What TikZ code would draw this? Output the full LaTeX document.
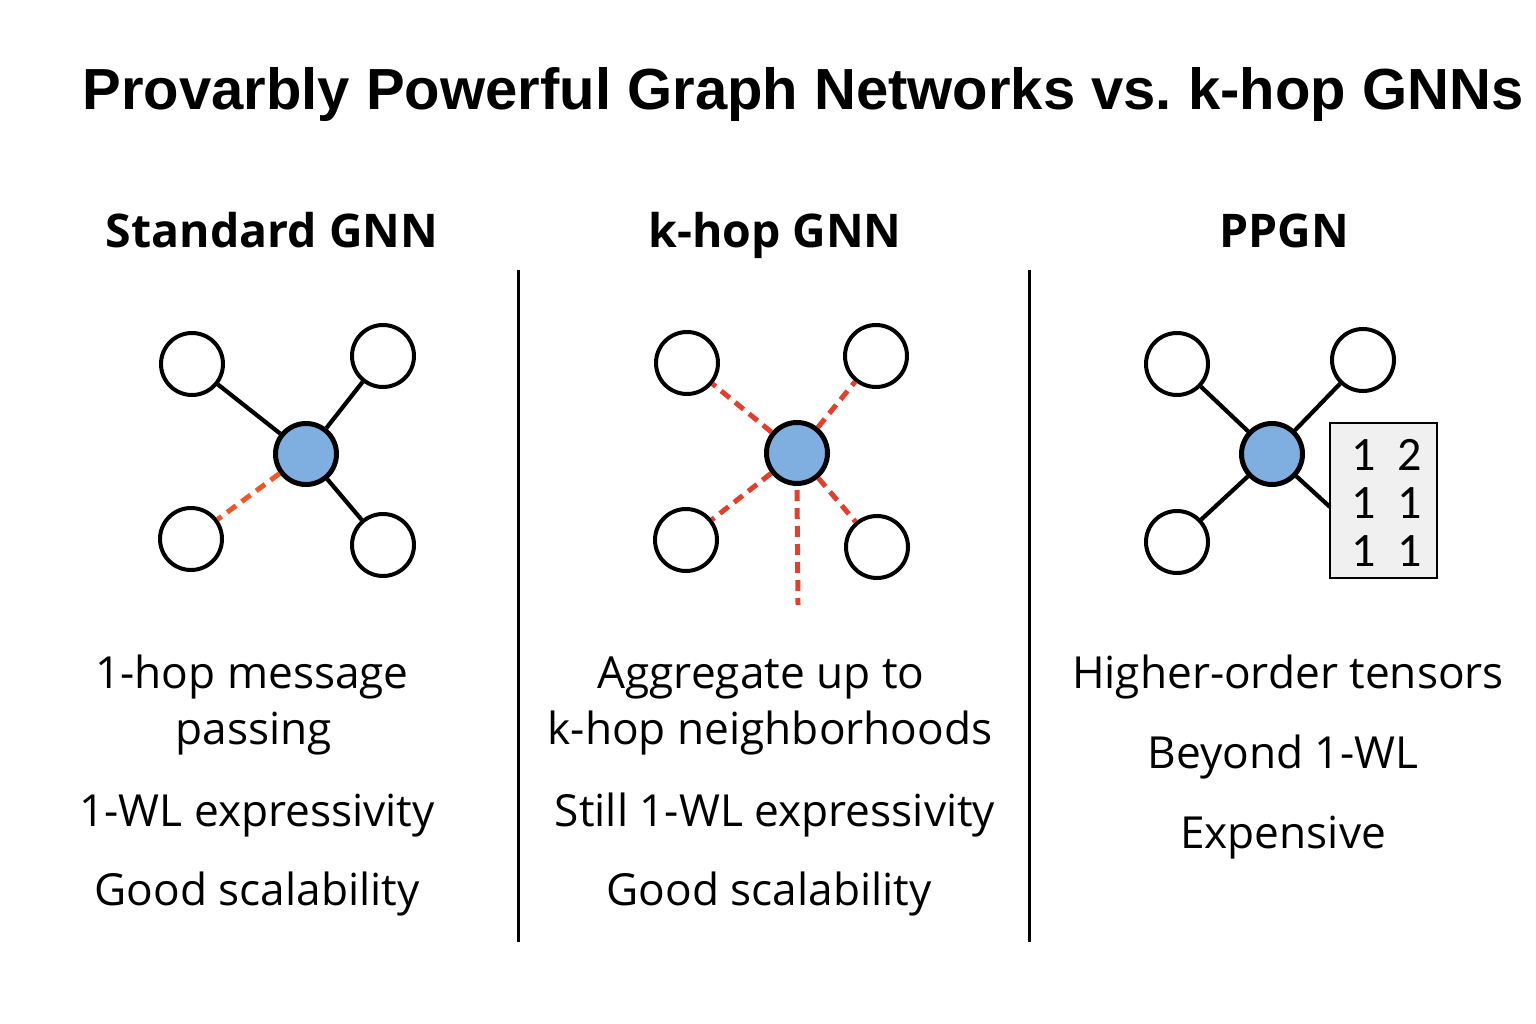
\documentclass[tikz,border=0pt]{standalone}
\usepackage{fontspec}
\setmainfont{Open Sans}
\newfontfamily\titlefont{Liberation Sans}
\newfontfamily\digitfont{Carlito}
\definecolor{nodeblue}{HTML}{7FAEE0}
\definecolor{dashorange}{HTML}{E85A2A}
\definecolor{dashred}{HTML}{E0402E}
\definecolor{boxgray}{HTML}{F0F0F0}
\tikzset{
  leaf/.style={circle,draw=black,fill=white,line width=4pt,minimum size=62pt,inner sep=0pt},
  hub/.style={circle,draw=black,fill=nodeblue,line width=5pt,minimum size=61pt,inner sep=0pt},
  edge/.style={line width=4.2pt,draw=black},
  hopdash/.style={line width=5pt,dash pattern=on 11pt off 7pt},
  titletext/.style={inner sep=0pt,anchor=base,font=\titlefont\bfseries\fontsize{58}{70}\selectfont},
  headtext/.style={inner sep=0pt,anchor=base,font=\bfseries\fontsize{46.4}{54}\selectfont},
  bodytext/.style={inner sep=0pt,anchor=base,font=\fontsize{44.2}{52}\selectfont},
  divider/.style={line width=3pt,draw=black},
  digit/.style={inner sep=0pt,anchor=base,font=\digitfont\fontsize{48}{54}\selectfont}
}
\frenchspacing
\begin{document}
\begin{tikzpicture}[x=1pt,y=-1pt]
\useasboundingbox (0,0) rectangle (1536,1024);
\fill[white] (0,0) rectangle (1536,1024);

% title
\node[titletext] (title) at (803,110) {Provarbly Powerful Graph Networks vs.\ k-hop GNNs};

% headings
\node[headtext] (h1) at (272,248) {Standard GNN};
\node[headtext] (h2) at (775,248) {k-hop GNN};
\node[headtext] (h3) at (1284,248) {PPGN};

% dividers
\coordinate (d1t) at (518,270); \coordinate (d1b) at (518,942);
\coordinate (d2t) at (1029,270); \coordinate (d2b) at (1029,942);
\draw[divider] (d1t) -- (d1b);
\draw[divider] (d2t) -- (d2b);

% panel 1
\node[leaf] (a1) at (192,364) {};
\node[leaf] (a2) at (383,356) {};
\node[leaf] (a3) at (191,539) {};
\node[leaf] (a4) at (383,545) {};
\node[hub] (ac) at (306,454) {};
\draw[edge] (ac) -- (a1);
\draw[edge] (ac) -- (a2);
\draw[edge] (ac) -- (a4);
\draw[hopdash,dashorange] (ac) -- (a3);

% panel 2
\node[leaf] (b1) at (687,363) {};
\node[leaf] (b2) at (876,356) {};
\node[leaf] (b3) at (686,540) {};
\node[leaf] (b4) at (877,547) {};
\node[hub] (bc) at (797,453) {};
\coordinate (bend) at (798,605);
\draw[hopdash,dashred] (bc) -- (b1);
\draw[hopdash,dashred] (bc) -- (b2);
\draw[hopdash,dashred] (bc) -- (b3);
\draw[hopdash,dashred] (bc) -- (b4);
\draw[hopdash,dashred] (bc.south) ++(0,4) -- (bend);

% panel 3
\node[leaf] (c1) at (1177,364) {};
\node[leaf] (c2) at (1363,360) {};
\node[leaf] (c3) at (1177,542) {};
\node[draw=black,fill=boxgray,line width=2.5pt,minimum width=107pt,minimum height=155pt,inner sep=0pt] (mat) at (1383.5,500.5) {};
\node[hub] (cc) at (1272,454) {};
\draw[edge] (cc) -- (c1);
\draw[edge] (cc) -- (c2);
\draw[edge] (cc) -- (c3);
\coordinate (matin) at (1330,507);
\draw[edge] (cc) -- (matin);
\node[digit] (m11) at (1364,470) {1};
\node[digit] (m12) at (1410,470) {2};
\node[digit] (m21) at (1364,518) {1};
\node[digit] (m22) at (1410,518) {1};
\node[digit] (m31) at (1364,566) {1};
\node[digit] (m32) at (1410,566) {1};

% body texts panel 1
\node[bodytext] (t11) at (252,688) {1-hop message};
\node[bodytext] (t12) at (254,744) {passing};
\node[bodytext] (t13) at (257,826) {1-WL expressivity};
\node[bodytext] (t14) at (257,905) {Good scalability};

% panel 2
\node[bodytext] (t21) at (761,688) {Aggregate up to};
\node[bodytext] (t22) at (770,744) {k-hop neighborhoods};
\node[bodytext] (t23) at (775,826) {Still 1-WL expressivity};
\node[bodytext] (t24) at (769,905) {Good scalability};

% panel 3
\node[bodytext] (t31) at (1288,688) {Higher-order tensors};
\node[bodytext] (t32) at (1283,768) {Beyond 1-WL};
\node[bodytext] (t33) at (1283,848) {Expensive};
\end{tikzpicture}
\end{document}
